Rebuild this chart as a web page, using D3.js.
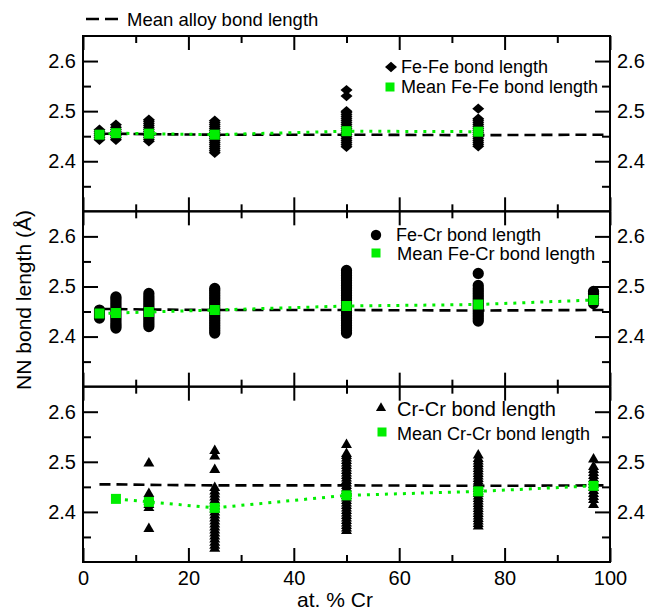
<!DOCTYPE html>
<html>
<head>
<meta charset="utf-8">
<script src="https://cdn.jsdelivr.net/npm/d3@7"></script>
<style>
  body { margin: 0; background: #fff; }
  svg { display: block; }
  text { font-family: "Liberation Sans", Arial, Helvetica, sans-serif; fill: #000; }
</style>
</head>
<body>
<svg id="chart" width="651" height="612"></svg>
<script>
// ---- data: nearest-neighbour bond lengths (Å) vs. at. % Cr ----
const alloyX    = [3.125, 6.25, 12.5, 25, 50, 75, 96.875, 100];
const alloyMean = [2.455, 2.455, 2.454, 2.453, 2.453, 2.452, 2.453, 2.453];

const feFeX    = [3.125, 6.25, 12.5, 25, 50, 75];
const feFeMean = [2.453, 2.456, 2.455, 2.453, 2.460, 2.459];
const feFeBonds = [
  [2.443, 2.447, 2.451, 2.455, 2.459, 2.463],
  [2.443, 2.447, 2.451, 2.456, 2.460, 2.464, 2.468, 2.473],
  [2.440, 2.444, 2.448, 2.452, 2.456, 2.460, 2.464, 2.468, 2.472, 2.476, 2.480, 2.483],
  [2.417, 2.421, 2.425, 2.429, 2.433, 2.437, 2.441, 2.445, 2.449, 2.453, 2.457, 2.461, 2.465, 2.469, 2.473, 2.477, 2.481],
  [2.429, 2.433, 2.437, 2.441, 2.445, 2.449, 2.453, 2.457, 2.461, 2.465, 2.469, 2.473, 2.477, 2.481, 2.485, 2.489, 2.493, 2.497, 2.500, 2.530, 2.542],
  [2.430, 2.434, 2.438, 2.442, 2.446, 2.450, 2.454, 2.458, 2.462, 2.466, 2.470, 2.474, 2.478, 2.482, 2.485, 2.505]
];

const feCrX    = [3.125, 6.25, 12.5, 25, 50, 75, 96.875];
const feCrMean = [2.446, 2.447, 2.449, 2.453, 2.461, 2.464, 2.473];
const feCrBonds = [
  [2.437, 2.441, 2.445, 2.449, 2.453],
  [2.417, 2.421, 2.425, 2.430, 2.435, 2.440, 2.445, 2.450, 2.455, 2.460, 2.465, 2.470, 2.475, 2.479],
  [2.420, 2.425, 2.430, 2.435, 2.440, 2.445, 2.450, 2.455, 2.460, 2.465, 2.470, 2.475, 2.480, 2.486],
  [2.407, 2.412, 2.417, 2.422, 2.427, 2.432, 2.437, 2.442, 2.447, 2.452, 2.457, 2.462, 2.467, 2.472, 2.477, 2.482, 2.487, 2.492, 2.496],
  [2.407, 2.412, 2.417, 2.422, 2.427, 2.432, 2.437, 2.442, 2.447, 2.452, 2.457, 2.462, 2.467, 2.472, 2.477, 2.482, 2.487, 2.492, 2.497, 2.502, 2.507, 2.512, 2.517, 2.522, 2.527, 2.532],
  [2.431, 2.436, 2.441, 2.446, 2.451, 2.456, 2.461, 2.466, 2.471, 2.476, 2.481, 2.486, 2.491, 2.496, 2.502, 2.526],
  [2.466, 2.471, 2.476, 2.481, 2.486, 2.490]
];

const crCrX    = [6.25, 12.5, 25, 50, 75, 96.875];
const crCrMean = [2.426, 2.420, 2.408, 2.433, 2.441, 2.452];
const crCrBondX = [12.5, 25, 50, 75, 96.875];
const crCrBonds = [
  [2.366, 2.408, 2.414, 2.421, 2.428, 2.436, 2.497],
  [2.327, 2.333, 2.339, 2.345, 2.351, 2.357, 2.363, 2.369, 2.375, 2.381, 2.387, 2.393, 2.399, 2.405, 2.411, 2.417, 2.423, 2.429, 2.435, 2.441, 2.448, 2.484, 2.511, 2.522],
  [2.362, 2.367, 2.372, 2.377, 2.382, 2.387, 2.392, 2.397, 2.402, 2.407, 2.412, 2.417, 2.422, 2.427, 2.432, 2.437, 2.442, 2.447, 2.452, 2.457, 2.462, 2.467, 2.472, 2.477, 2.482, 2.487, 2.492, 2.497, 2.502, 2.507, 2.512, 2.516, 2.534],
  [2.371, 2.376, 2.381, 2.386, 2.391, 2.396, 2.401, 2.406, 2.411, 2.416, 2.421, 2.426, 2.431, 2.436, 2.441, 2.446, 2.451, 2.456, 2.461, 2.466, 2.471, 2.476, 2.481, 2.486, 2.491, 2.496, 2.501, 2.506, 2.513],
  [2.414, 2.424, 2.430, 2.436, 2.442, 2.448, 2.454, 2.460, 2.466, 2.472, 2.478, 2.484, 2.490, 2.505]
];

const xMajorTicks = [0, 20, 40, 60, 80, 100];
const xMinorTicks = [10, 30, 50, 70, 90];
const yMajorTicks = [2.4, 2.5, 2.6];
const yMinorTicks = [2.35, 2.45, 2.55];

// ---- layout ----
const svg = d3.select("#chart");
const plotLeft = 83, plotRight = 610, plotTop = 36, plotBottom = 562;
const panelH = (plotBottom - plotTop) / 3;
const GREEN = "#00ee00";

const x = d3.scaleLinear().domain([0, 100]).range([plotLeft, plotRight]);

// wide diamond marker
const wideDiamond = {
  draw(ctx, size) {
    const w = 6, h = 5.2;
    ctx.moveTo(0, -h); ctx.lineTo(w, 0); ctx.lineTo(0, h); ctx.lineTo(-w, 0); ctx.closePath();
  }
};

function flatten(xs, lists) {
  const out = [];
  xs.forEach((xv, i) => lists[i].forEach(v => out.push({ x: xv, y: v })));
  return out;
}

const panels = [
  { pts: flatten(feFeX, feFeBonds), symbol: wideDiamond, size: 100,
    meanX: feFeX, mean: feFeMean,
    legend: [{ lx: 391, ly: 67, tx: 401, ty: 73, text: "Fe-Fe bond length", fs: 18, kind: "mark" },
             { lx: 390, ly: 87, tx: 401, ty: 93, text: "Mean Fe-Fe bond length", fs: 18, kind: "mean" }] },
  { pts: flatten(feCrX, feCrBonds), symbol: d3.symbolCircle, size: 100,
    meanX: feCrX, mean: feCrMean,
    legend: [{ lx: 376, ly: 235, tx: 396, ty: 241, text: "Fe-Cr bond length", fs: 18, kind: "mark" },
             { lx: 376, ly: 253, tx: 397, ty: 260, text: "Mean Fe-Cr bond length", fs: 18.3, kind: "mean" }] },
  { pts: flatten(crCrBondX, crCrBonds), symbol: d3.symbolTriangle, size: 52,
    meanX: crCrX, mean: crCrMean,
    legend: [{ lx: 381, ly: 408, tx: 397, ty: 416, text: "Cr-Cr bond length", fs: 20, kind: "mark" },
             { lx: 382, ly: 432, tx: 397, ty: 440, text: "Mean Cr-Cr bond length", fs: 18, kind: "mean" }] }
];

panels.forEach((p, i) => {
  const pTop = plotTop + i * panelH, pBot = pTop + panelH;
  const y = d3.scaleLinear().domain([2.3, 2.65]).range([pBot, pTop]);
  const g = svg.append("g");

  // bond-length markers
  g.append("g").selectAll("path").data(p.pts).join("path")
    .attr("transform", d => `translate(${x(d.x)},${y(d.y)})`)
    .attr("d", d3.symbol(p.symbol, p.size))
    .attr("fill", "#000");

  // mean alloy bond length (dashed)
  const alloyLine = d3.line().x((d, k) => x(alloyX[k])).y(d => y(d));
  g.append("path").datum(alloyMean)
    .attr("d", alloyLine)
    .attr("fill", "none").attr("stroke", "#000")
    .attr("stroke-width", 2.6).attr("stroke-dasharray", "11,6");

  // mean pair bond length (dotted green) + squares
  const meanLine = d3.line().x((d, k) => x(p.meanX[k])).y(d => y(d));
  g.append("path").datum(p.mean)
    .attr("d", meanLine)
    .attr("fill", "none").attr("stroke", GREEN)
    .attr("stroke-width", 3).attr("stroke-dasharray", "3,6");
  g.append("g").selectAll("rect").data(p.mean).join("rect")
    .attr("x", (d, k) => x(p.meanX[k]) - 5)
    .attr("y", d => y(d) - 5)
    .attr("width", 10).attr("height", 10)
    .attr("fill", GREEN);

  // axes: all ticks point inward
  const addAxis = (axis, tx, ty, labels) => {
    const a = g.append("g").attr("transform", `translate(${tx},${ty})`).call(axis);
    a.select(".domain").remove();
    a.selectAll("line").attr("stroke", "#000").attr("stroke-width", 2);
    if (labels) {
      a.selectAll("text").attr("font-size", 20)
        .attr("font-family", '"Liberation Sans", Arial, Helvetica, sans-serif');
    } else {
      a.selectAll("text").remove();
    }
    return a;
  };
  addAxis(d3.axisLeft(y).tickValues(yMajorTicks).tickSize(-15).tickPadding(7).tickFormat(d3.format(".1f")), plotLeft, 0, true);
  addAxis(d3.axisLeft(y).tickValues(yMinorTicks).tickSize(-8), plotLeft, 0, false);
  addAxis(d3.axisRight(y).tickValues(yMajorTicks).tickSize(-15).tickPadding(7).tickFormat(d3.format(".1f")), plotRight, 0, true);
  addAxis(d3.axisRight(y).tickValues(yMinorTicks).tickSize(-8), plotRight, 0, false);
  addAxis(d3.axisTop(x).tickValues(xMajorTicks).tickSize(-14), 0, pTop, false);
  addAxis(d3.axisTop(x).tickValues(xMinorTicks).tickSize(-7), 0, pTop, false);
  addAxis(d3.axisBottom(x).tickValues(xMajorTicks).tickSize(-14).tickPadding(9).tickFormat(d3.format("d")), 0, pBot, i === 2);
  addAxis(d3.axisBottom(x).tickValues(xMinorTicks).tickSize(-7), 0, pBot, false);

  // frame
  g.append("rect").attr("x", plotLeft).attr("y", pTop)
    .attr("width", plotRight - plotLeft).attr("height", panelH)
    .attr("fill", "none").attr("stroke", "#000").attr("stroke-width", 2);

  // legend
  p.legend.forEach(l => {
    if (l.kind === "mark") {
      g.append("path").attr("transform", `translate(${l.lx},${l.ly})`)
        .attr("d", d3.symbol(p.symbol, p.size * 0.85)).attr("fill", "#000");
    } else {
      g.append("rect").attr("x", l.lx - 4.5).attr("y", l.ly - 4.5)
        .attr("width", 9).attr("height", 9).attr("fill", GREEN);
    }
    g.append("text").attr("x", l.tx).attr("y", l.ty)
      .attr("font-size", l.fs).text(l.text);
  });
});

// top legend for the alloy mean
svg.append("line").attr("x1", 86).attr("x2", 118).attr("y1", 19).attr("y2", 19)
  .attr("stroke", "#000").attr("stroke-width", 2.6).attr("stroke-dasharray", "13,6");
svg.append("text").attr("x", 127).attr("y", 26).attr("font-size", 18.5)
  .text("Mean alloy bond length");

// axis titles
svg.append("text").attr("x", 335).attr("y", 607).attr("text-anchor", "middle")
  .attr("font-size", 21).text("at. % Cr");
svg.append("text").attr("transform", "translate(31,300) rotate(-90)")
  .attr("text-anchor", "middle").attr("font-size", 21).text("NN bond length (Å)");
</script>
</body>
</html>
